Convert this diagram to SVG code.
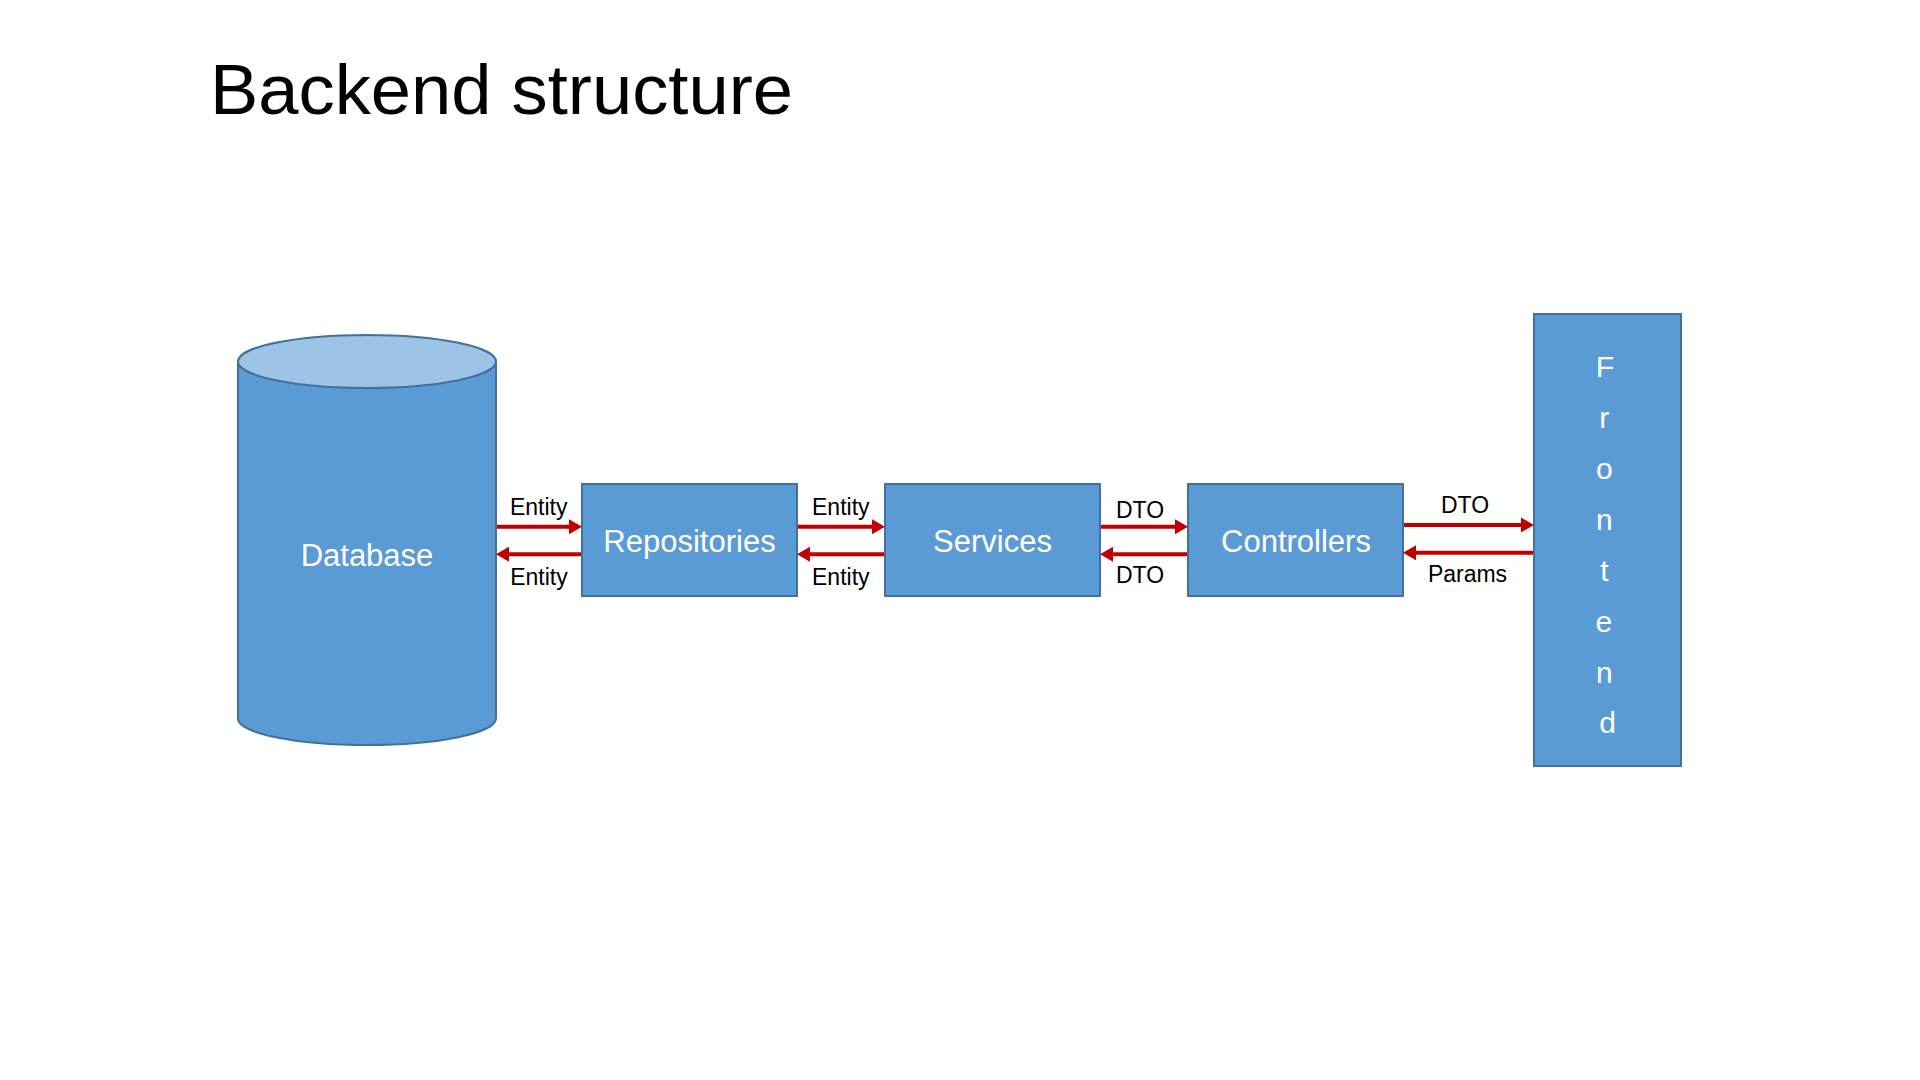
<svg xmlns="http://www.w3.org/2000/svg" width="1920" height="1080" viewBox="0 0 1920 1080">
<style>
.box{fill:#5B9BD5;stroke:#41719C;stroke-width:2}
.top{fill:#9DC3E6;stroke:#41719C;stroke-width:2}
.lbl{font-family:"Liberation Sans",Arial,sans-serif;font-size:31px;fill:#FFFFFF;text-anchor:middle}
.small{font-family:"Liberation Sans",Arial,sans-serif;font-size:23px;fill:#000000;text-anchor:middle}
.arr{stroke:#C00000;stroke-width:4;fill:none;marker-end:url(#ah)}
.title{font-family:"Liberation Sans",Arial,sans-serif;font-size:70px;fill:#000000}
</style>
<defs>
<marker id="ah" markerUnits="userSpaceOnUse" markerWidth="14" markerHeight="16" viewBox="0 0 14 16" refX="3" refY="8" orient="auto">
<path d="M0,0.5 L13,8 L0,15.5 z" fill="#C00000"/>
</marker>
</defs>
<rect width="1920" height="1080" fill="#FFFFFF"/>
<text class="title" x="210" y="113.5" textLength="583" lengthAdjust="spacingAndGlyphs">Backend structure</text>

<g id="database">
<path class="box" d="M238,361.5 L238,718.5 A129,26.5 0 0 0 496,718.5 L496,361.5"/>
<ellipse class="top" cx="367" cy="361.5" rx="129" ry="26.5"/>
<text class="lbl" x="367" y="566">Database</text>
</g>
<g id="repositories">
<rect class="box" x="582" y="484" width="215" height="112"/>
<text class="lbl" x="689.5" y="551.7">Repositories</text>
</g>
<g id="services">
<rect class="box" x="885" y="484" width="215" height="112"/>
<text class="lbl" x="992.5" y="551.7">Services</text>
</g>
<g id="controllers">
<rect class="box" x="1188" y="484" width="215" height="112"/>
<text class="lbl" x="1296" y="551.7">Controllers</text>
</g>
<g id="frontend">
<rect class="box" x="1534" y="314" width="147" height="452"/>
<text class="lbl" style="font-size:30px">
<tspan x="1609" y="376.7">F</tspan>
<tspan x="1608.5" y="428">r</tspan>
<tspan x="1608.5" y="478.5">o</tspan>
<tspan x="1608.5" y="530">n</tspan>
<tspan x="1608.5" y="581">t</tspan>
<tspan x="1608" y="632">e</tspan>
<tspan x="1608.5" y="683">n</tspan>
<tspan x="1607.5" y="733">d</tspan>
</text>
</g>

<g id="connectors">
<path class="arr" d="M497,526.7 L572,526.7"/>
<path class="arr" d="M581,554.3 L506,554.3"/>
<path class="arr" d="M798,526.7 L875,526.7"/>
<path class="arr" d="M884,554.3 L807,554.3"/>
<path class="arr" d="M1101,526.7 L1178,526.7"/>
<path class="arr" d="M1187,554.3 L1110,554.3"/>
<path class="arr" d="M1404,525 L1524,525"/>
<path class="arr" d="M1533,552.7 L1413,552.7"/>
<text class="small" x="538.7" y="515">Entity</text>
<text class="small" x="539" y="585">Entity</text>
<text class="small" x="840.8" y="515">Entity</text>
<text class="small" x="840.8" y="585">Entity</text>
<text class="small" x="1140" y="517.7">DTO</text>
<text class="small" x="1140" y="583">DTO</text>
<text class="small" x="1465" y="512.7">DTO</text>
<text class="small" x="1467.5" y="581.5">Params</text>
</g>
</svg>
